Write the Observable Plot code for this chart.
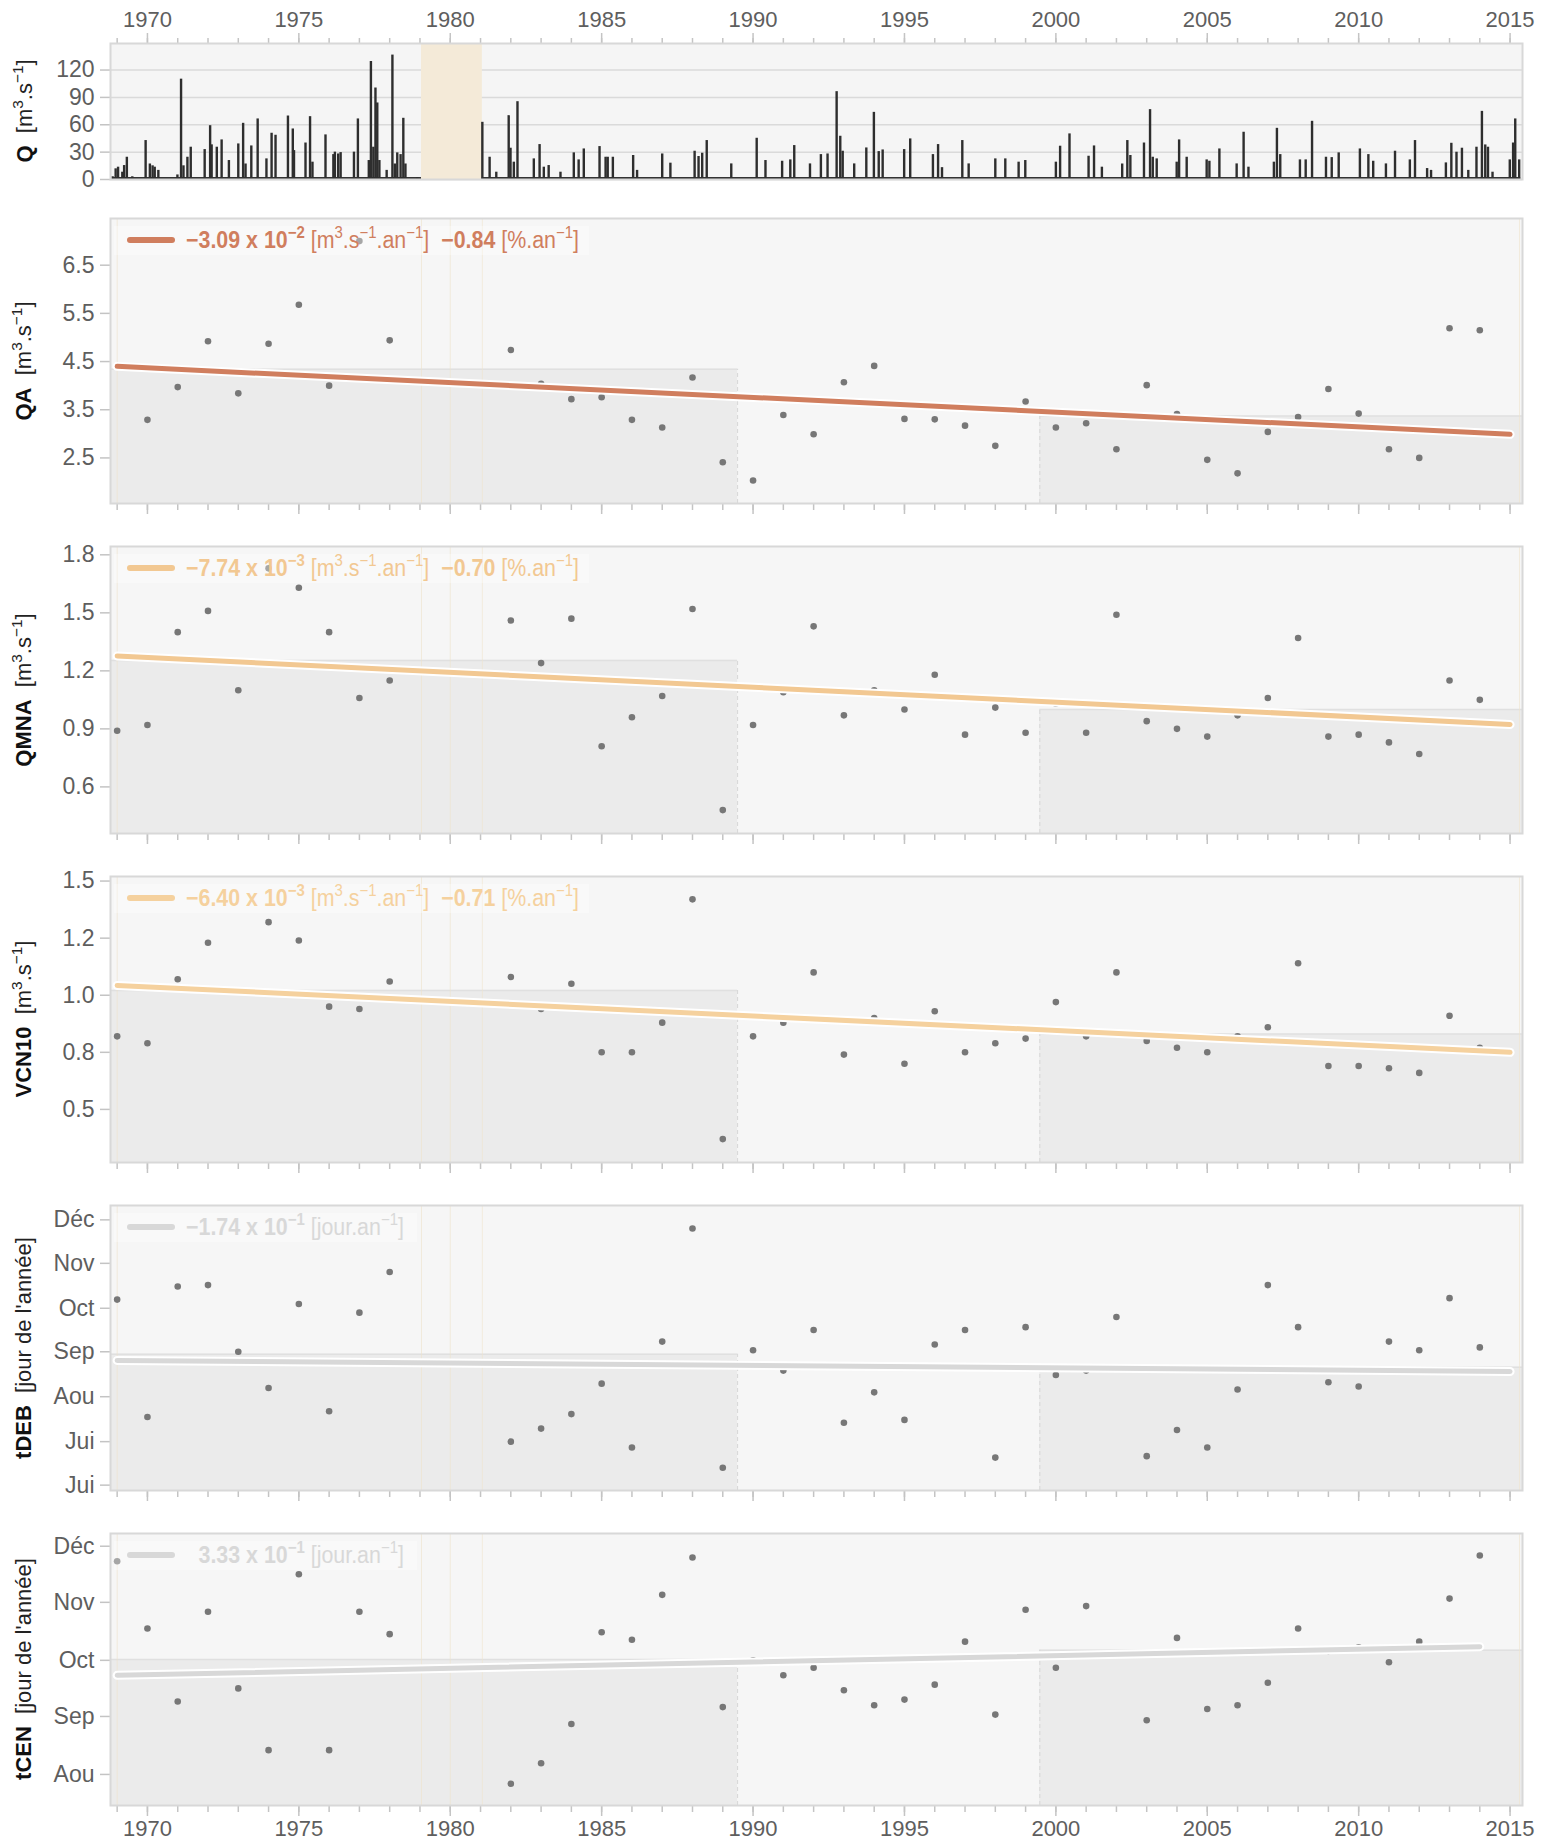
<!DOCTYPE html>
<html><head><meta charset="utf-8">
<script src="https://cdn.jsdelivr.net/npm/d3@7"></script>
<script src="https://cdn.jsdelivr.net/npm/@observablehq/plot@0.6"></script>
<style>
html,body{margin:0;padding:0;background:#fff;overflow:hidden;}
#wrap{position:relative;width:1541px;height:1840px;overflow:hidden;font-family:"Liberation Sans",Arial,Helvetica,sans-serif;}
#wrap svg{position:absolute;left:0;}
.ylab{position:absolute;white-space:nowrap;transform:translate(-50%,-50%) rotate(-90deg);font-size:22px;color:#222;line-height:1;}
.ylab b{color:#111;}
.ylab sup,.legtxt sup{font-size:0.7em;vertical-align:0.6em;line-height:0;}
.legbox{position:absolute;background:rgba(255,255,255,0.35);}
.legline{position:absolute;height:6px;border-radius:3px;}
.legtxt{position:absolute;white-space:nowrap;font-family:"Liberation Sans Narrow","Arial Narrow","Liberation Sans",sans-serif;font-size:23px;line-height:1;transform:scaleX(0.93);transform-origin:0 50%;}
</style></head><body><div id="wrap"></div>
<script>
// ---------- DATA ----------
const years = [1969,1970,1971,1972,1973,1974,1975,1976,1977,1978,1979,1980,1981,1982,1983,1984,1985,1986,1987,1988,1989,1990,1991,1992,1993,1994,1995,1996,1997,1998,1999,2000,2001,2002,2003,2004,2005,2006,2007,2008,2009,2010,2011,2012,2013,2014];
const QA    = [null,3.29,3.97,4.92,3.84,4.87,5.68,4.00,7.00,4.94,null,null,null,4.74,4.04,3.72,3.76,3.29,3.13,4.17,2.41,2.03,3.39,2.99,4.07,4.41,3.31,3.30,3.17,2.75,3.67,3.13,3.22,2.68,4.01,3.41,2.46,2.18,3.04,3.35,3.93,3.42,2.68,2.50,5.19,5.15];
const QMNA  = [0.89,0.92,1.40,1.51,1.10,1.73,1.63,1.40,1.06,1.15,null,null,null,1.46,1.24,1.47,0.81,0.96,1.07,1.52,0.48,0.92,1.09,1.43,0.97,1.10,1.00,1.18,0.87,1.01,0.88,1.03,0.88,1.49,0.94,0.90,0.86,0.97,1.06,1.37,0.86,0.87,0.83,0.77,1.15,1.05];
const VCN10 = [0.82,0.79,1.07,1.23,null,1.32,1.24,0.95,0.94,1.06,null,null,null,1.08,0.94,1.05,0.75,0.75,0.88,1.42,0.37,0.82,0.88,1.10,0.74,0.90,0.70,0.93,0.75,0.79,0.81,0.97,0.82,1.10,0.80,0.77,0.75,0.82,0.86,1.14,0.69,0.69,0.68,0.66,0.91,0.77];
const tDEB  = [280,199,289,290,244,219,277,203,271,299,null,null,null,182,191,201,222,178,251,329,164,245,231,259,195,216,197,249,259,171,261,228,231,268,172,190,178,218,290,261,223,220,251,245,281,247];
const tCEN  = [327,291,252,300,259,226,320,226,300,288,null,null,null,208,219,240,289,285,309,329,249,274,266,270,258,250,253,261,284,245,301,270,303,277,242,286,248,250,262,291,279,281,273,284,307,330];

const qPeaks = [[1968.85,3],[1968.95,11.7],[1969.03,13.5],[1969.17,8],[1969.23,15.3],[1969.32,24.4],[1969.5,3],[1969.94,42.7],[1970.08,17],[1970.17,15],[1970.24,13.5],[1970.36,10],[1970.99,5],[1971.11,110],[1971.19,15],[1971.32,24.4],[1971.43,35.4],[1971.89,32.8],[1972.07,59],[1972.12,38],[1972.29,35.4],[1972.45,43.4],[1972.69,20.8],[1973.0,39],[1973.16,61.6],[1973.24,17],[1973.43,36.8],[1973.64,66.4],[1973.93,22.6],[1974.1,50.7],[1974.23,48.5],[1974.64,69.6],[1974.8,55.4],[1974.84,31.7],[1975.22,40],[1975.37,68.9],[1975.45,19],[1975.88,48.9],[1976.14,27.3],[1976.19,30],[1976.3,28],[1976.38,29.5],[1976.82,30],[1976.95,66.4],[1977.31,20.8],[1977.38,129.4],[1977.46,35.4],[1977.53,100.3],[1977.59,83.9],[1977.66,20.8],[1977.9,10],[1978.09,136.4],[1978.17,17],[1978.25,29.2],[1978.36,27.3],[1978.45,67.1],[1978.52,17],[1978.91,2],
[1981.06,62.7],[1981.3,24.4],[1981.52,8],[1981.93,70],[1981.99,34.3],[1982.1,19],[1982.22,85.3],[1982.76,22.6],[1982.95,38.3],[1983.09,13.5],[1983.25,15.3],[1983.64,8],[1984.08,29.2],[1984.24,21.5],[1984.41,33.5],[1984.93,36.1],[1985.13,24.4],[1985.2,24.4],[1985.37,24.4],[1986.04,26.3],[1986.17,10],[1987.0,28],[1987.27,17.9],[1988.07,31],[1988.2,25.2],[1988.32,28.8],[1988.47,42.7],[1989.28,17.1],[1990.12,45.2],[1990.41,20.8],[1990.96,20],[1991.23,21.5],[1991.36,37.2],[1991.88,17.1],[1992.24,27.3],[1992.46,28],[1992.76,96.3],[1992.88,47.4],[1992.96,31],[1993.34,17.1],[1993.74,34.6],[1993.99,73.6],[1994.15,30.6],[1994.28,32.4],[1994.99,32.8],[1995.19,44.5],[1995.94,27.3],[1996.11,38.3],[1996.24,13],[1996.91,42.7],[1997.12,17.1],[1998.0,22.6],[1998.33,22.6],[1998.77,19],[1998.99,20.8],[2000.0,19],[2000.14,36.5],[2000.45,50],[2001.08,25.5],[2001.26,36.8],[2001.52,13.5],[2002.19,17],[2002.36,42.7],[2002.46,26.3],[2002.91,40],[2003.11,76.6],[2003.2,24.4],[2003.33,22.6],[2003.99,19],[2004.07,43.4],[2004.32,24.4],[2004.98,21.5],[2005.07,20],[2005.4,33.5],[2005.97,17.1],[2006.2,51.8],[2006.36,13.5],[2007.2,19],[2007.3,56.1],[2007.41,27.3],[2008.06,21.5],[2008.25,21.5],[2008.46,63.8],[2008.92,24.4],[2009.11,24],[2009.34,29.2],[2010.04,33.5],[2010.32,27.3],[2010.48,20],[2010.9,17.1],[2011.2,31],[2011.69,21.5],[2011.86,42.7],[2012.26,12],[2012.39,10],[2012.88,18.2],[2013.06,39.7],[2013.23,29.9],[2013.41,34.3],[2013.62,10],[2013.89,35.4],[2014.07,74.7],[2014.18,37.9],[2014.27,35.4],[2014.42,8],[2014.99,21.5],[2015.1,40],[2015.17,66.4],[2015.3,21.5]];
const qSegStart = [1968.85, 1981.06];
const qSegEnd   = [1979.05, 2015.35];
const qBase = [1.5, 1.5];
const gapStart = [1979.05];
const gapEnd   = [1981.06];
const gapMarks = [1969.0, 1979.05, 1980.0, 1981.06, 2015.31];

// trends (start year/value, end year/value)
const trendStartYear = [1969, 1969, 1969, 1969, 1969];
const trendStartVal  = [4.40, 1.277, 1.043, 238.0, 266.0];
const trendEndYear   = [2015, 2015, 2015, 2015, 2014];
const trendEndVal    = [2.99, 0.923, 0.750, 230.4, 281.3];
// period means (period 1: to 1989.5, period 3: from 1999.5)
const periodBreaks = [1989.49, 1999.47];
const mean1 = [4.34, 1.254, 1.021, 242.3, 274.4];
const mean3 = [3.37, 1.000, 0.830, 233.4, 279.4];

// legend texts
const legNum  = ["\u22123.09 x 10","\u22127.74 x 10","\u22126.40 x 10","\u22121.74 x 10","3.33 x 10"];
const legExp  = ["\u22122","\u22123","\u22123","\u22121","\u22121"];
const legUnit = ["[m<sup>3</sup>.s<sup>\u22121</sup>.an<sup>\u22121</sup>]","[m<sup>3</sup>.s<sup>\u22121</sup>.an<sup>\u22121</sup>]","[m<sup>3</sup>.s<sup>\u22121</sup>.an<sup>\u22121</sup>]","[jour.an<sup>\u22121</sup>]","[jour.an<sup>\u22121</sup>]"];
const legPct  = ["\u22120.84","\u22120.70","\u22120.71",null,null];
const trendColors = ["#d07e5e","#f2c892","#f5d19e","#d8d8d8","#d8d8d8"];

// axis ticks
const qTicks = [0,30,60,90,120];
const qaTicks = [2.5,3.5,4.5,5.5,6.5];
const qaLabels = ["2.5","3.5","4.5","5.5","6.5"];
const qmnaTicks = [0.6,0.9,1.2,1.5,1.8];
const qmnaLabels = ["0.6","0.9","1.2","1.5","1.8"];
const vcnTicks = [0.5,0.75,1.0,1.25,1.5];
const vcnLabels = ["0.5","0.8","1.0","1.2","1.5"];
const debTicks = [152,182,213,244,274,305,335];
const debLabels = ["Jui","Jui","Aou","Sep","Oct","Nov","D\u00e9c"];
const cenTicks = [213,244,274,305,335];
const cenLabels = ["Aou","Sep","Oct","Nov","D\u00e9c"];
const yearTicks = d3.range(1969, 2016);
const majorYears = [1970,1975,1980,1985,1990,1995,2000,2005,2010,2015];

// ---------- LAYOUT ----------
const W = 1541, ML = 110, MR = 19;
const xDomain = [1968.78, 2015.41];
const FONT = '"Liberation Sans", Arial, Helvetica, sans-serif';
const TICKC = "#c4c4c4", LABC = "#5e5e5e";
const YFS = 23;
const wrap = document.getElementById("wrap");

function place(svg, top){ svg.style.top = top + "px"; wrap.appendChild(svg); }
function ylab(html, cx, cy){
  const d = document.createElement("div"); d.className = "ylab"; d.innerHTML = html;
  d.style.left = cx + "px"; d.style.top = cy + "px"; wrap.appendChild(d);
}

// ---- Panel Q ----
{
  const top = 0, mt = 43, fh = 136, mb = 21;
  const segs = qSegStart.map((s,i)=>({x1:s, x2:qSegEnd[i], y:qBase[i]}));
  const gaps = gapStart.map((s,i)=>({x1:s, x2:gapEnd[i]}));
  const peaks = qPeaks.map(([t,v])=>({t, v}));
  const svg = Plot.plot({
    width: W, height: mt+fh+mb, marginLeft: ML, marginRight: MR, marginTop: mt, marginBottom: mb,
    x: {type:"linear", domain: xDomain},
    y: {domain: [0, 149.1]},
    style: {background:"transparent", fontFamily: FONT, fontSize:"22px", overflow:"visible"},
    marks: [
      Plot.frame({fill:"#f5f5f5", stroke:null}),
      Plot.gridY(qTicks, {stroke:"#dadada", strokeOpacity:1, strokeWidth:1.5}),
      Plot.rect(gaps, {x1:"x1", x2:"x2", y1:0, y2:149.1, fill:"#f4ead8"}),
      Plot.ruleY(segs, {x1:"x1", x2:"x2", y:"y", stroke:"#333", strokeWidth:2.5}),
      Plot.ruleX(peaks, {x:"t", y1:0, y2:"v", stroke:"#2e2e2e", strokeWidth:2.4}),
      Plot.axisX({anchor:"top", ticks: yearTicks, tickSize:6, fill:"none", stroke:TICKC, strokeWidth:1.5}),
      Plot.axisX({anchor:"top", ticks: majorYears, tickSize:11, tickPadding:6, tickFormat:d=>String(d), stroke:TICKC, strokeWidth:1.5, fill:LABC, fontSize:22}),
      Plot.axisY({ticks: qTicks, tickSize:10, tickPadding:6, tickFormat:d=>String(d), stroke:TICKC, strokeWidth:1.5, fill:LABC, fontSize:YFS}),
      Plot.frame({stroke:"#d8d8d8", strokeWidth:2})
    ]
  });
  place(svg, top);
  ylab('<b>Q</b>&nbsp;&nbsp;[m<sup>3</sup>.s<sup>\u22121</sup>]', 25, mt + fh/2 + top);
}

// ---- Lower panels ----
const lower = [
  {name:"QA", values:QA, dom:[1.554,7.469], ticks:qaTicks, labels:qaLabels, top:210, fh:285, unit:'[m<sup>3</sup>.s<sup>\u22121</sup>]'},
  {name:"QMNA", values:QMNA, dom:[0.359,1.843], ticks:qmnaTicks, labels:qmnaLabels, top:538, fh:287, unit:'[m<sup>3</sup>.s<sup>\u22121</sup>]'},
  {name:"VCN10", values:VCN10, dom:[0.2675,1.52], ticks:vcnTicks, labels:vcnLabels, top:868, fh:286, unit:'[m<sup>3</sup>.s<sup>\u22121</sup>]'},
  {name:"tDEB", values:tDEB, dom:[148.3,344.9], ticks:debTicks, labels:debLabels, top:1197, fh:285, unit:"[jour de l'ann\u00e9e]"},
  {name:"tCEN", values:tCEN, dom:[196.4,341.8], ticks:cenTicks, labels:cenLabels, top:1525, fh:272, unit:"[jour de l'ann\u00e9e]", last:true}
];

lower.forEach((p, k) => {
  const mt = 8, mb = p.last ? 35 : 18;
  const pts = years.map((y,i)=>({year:y, v:p.values[i]})).filter(d=>d.v!=null);
  const trend = [{x:trendStartYear[k], y:trendStartVal[k]}, {x:trendEndYear[k], y:trendEndVal[k]}];
  const rects = [{x1:xDomain[0], x2:periodBreaks[0], y:mean1[k]}, {x1:periodBreaks[1], x2:xDomain[1], y:mean3[k]}];
  const dashes = [{x:periodBreaks[0], y:mean1[k]}, {x:periodBreaks[1], y:mean3[k]}];
  const labMap = new Map(p.ticks.map((t,i)=>[t, p.labels[i]]));
  const svg = Plot.plot({
    width: W, height: mt+p.fh+mb, marginLeft: ML, marginRight: MR, marginTop: mt, marginBottom: mb,
    x: {type:"linear", domain: xDomain},
    y: {domain: p.dom},
    style: {background:"transparent", fontFamily: FONT, fontSize:"22px", overflow:"visible"},
    marks: [
      Plot.frame({fill:"#f6f6f6", stroke:null}),
      Plot.rect(rects, {x1:"x1", x2:"x2", y1:p.dom[0], y2:"y", fill:"#ebebeb"}),
      Plot.ruleY(rects, {x1:"x1", x2:"x2", y:"y", stroke:"#e0e0e0", strokeWidth:1.5}),
      Plot.ruleX(dashes, {x:"x", y1:p.dom[0], y2:"y", stroke:"#d6d6d6", strokeWidth:1, strokeDasharray:"4,3"}),
      Plot.ruleX(gapMarks, {x:d=>d, stroke:"#efe3cc", strokeOpacity:0.6, strokeWidth:1}),
      Plot.dot(pts, {x:"year", y:"v", r:3.3, fill:"#777", stroke:null}),
      Plot.line(trend, {x:"x", y:"y", stroke:"white", strokeWidth:9, strokeLinecap:"round"}),
      Plot.line(trend, {x:"x", y:"y", stroke:trendColors[k], strokeWidth:5, strokeLinecap:"round"}),
      Plot.axisX({anchor:"bottom", ticks: yearTicks, tickSize:7, fill:"none", stroke:TICKC, strokeWidth:1.5}),
      Plot.axisX({anchor:"bottom", ticks: majorYears, tickSize:11, tickPadding:4, tickFormat:d=>String(d), stroke:TICKC, strokeWidth:1.5, fill: p.last ? LABC : "none", fontSize:22}),
      Plot.axisY({ticks: p.ticks, tickSize:10, tickPadding:6, tickFormat:d=>labMap.get(d), stroke:TICKC, strokeWidth:1.5, fill:LABC, fontSize:YFS}),
      Plot.frame({stroke:"#d8d8d8", strokeWidth:2})
    ]
  });
  place(svg, p.top);
  const ft = p.top + mt;
  ylab('<b>' + p.name + '</b>&nbsp;&nbsp;' + p.unit, 24, ft + p.fh/2);

  // legend
  const wide = legPct[k] != null;
  const box = document.createElement("div"); box.className = "legbox";
  box.style.left = "114px"; box.style.top = (ft+8) + "px";
  box.style.width = (wide ? 475 : 303) + "px"; box.style.height = "29px";
  wrap.appendChild(box);
  const ln = document.createElement("div"); ln.className = "legline";
  ln.style.left = "127px"; ln.style.width = "48px"; ln.style.top = (ft+19) + "px";
  ln.style.background = trendColors[k]; wrap.appendChild(ln);
  const tx = document.createElement("div"); tx.className = "legtxt";
  tx.style.left = "186px"; tx.style.top = (ft+11) + "px"; tx.style.color = trendColors[k];
  let h = (legNum[k][0] !== "\u2212" ? '<span style="visibility:hidden"><b>\u2212</b></span>' : '') +
          '<b>' + legNum[k] + '<sup>' + legExp[k] + '</sup></b> ' + legUnit[k];
  if (wide) h += '&nbsp; <b>' + legPct[k] + '</b> [%.an<sup>\u22121</sup>]';
  tx.innerHTML = h; wrap.appendChild(tx);
});
</script></body></html>
